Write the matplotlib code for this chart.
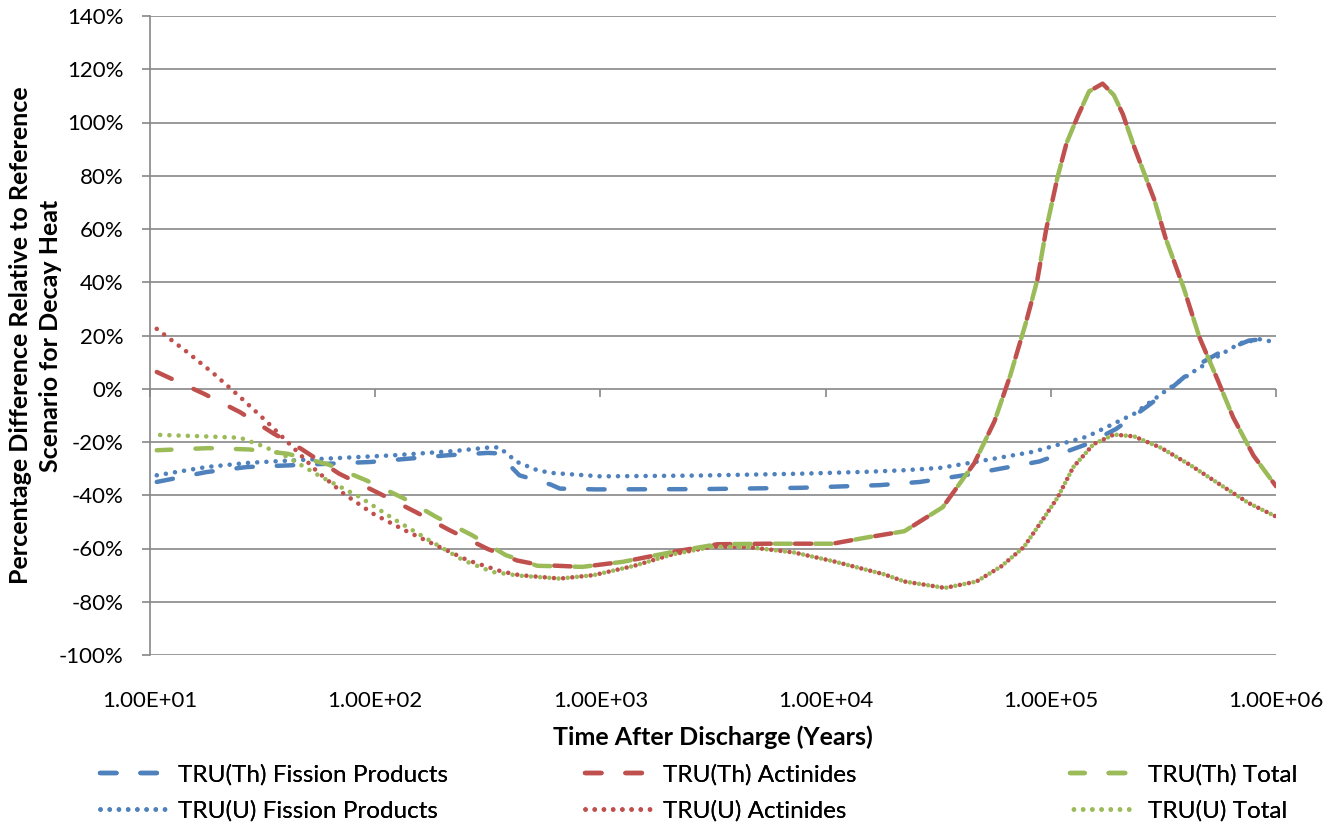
import numpy as np
import matplotlib
matplotlib.use('Agg')
import matplotlib.pyplot as plt
from matplotlib.ticker import FixedLocator, FuncFormatter, NullLocator

plt.rcParams['font.family'] = ['Lato', 'DejaVu Sans']

# Data (log10 of years, percent difference)
th_fp_logt = [1.03, 1.25, 1.43, 1.61, 1.98, 2.32, 2.50, 2.55, 2.60, 2.64, 2.78, 2.82, 2.98,
              3.44, 3.89, 4.24, 4.42, 4.63, 4.95, 5.16, 5.29, 5.43, 5.54, 5.66, 5.75, 5.88, 5.93, 6.0]
th_fp = [-35.0, -31.3, -29.4, -28.8, -27.5, -25.0, -24.1, -24.3, -29.0, -32.5, -36.0, -37.5, -37.8,
         -37.7, -37.2, -36.2, -35.0, -32.3, -27.3, -20.8, -15.1, -6.5, 0.6, 9.3, 13.6, 18.1, 18.5, 17.4]

u_fp_logt = [1.03, 1.25, 1.44, 1.77, 2.08, 2.35, 2.50, 2.55, 2.63, 2.72, 2.78, 3.0, 3.44, 3.89,
             4.18, 4.35, 4.51, 4.63, 4.92, 5.16, 5.37, 5.51, 5.62, 5.74, 5.84, 5.93, 6.0]
u_fp = [-32.5, -29.4, -27.8, -26.3, -25.0, -23.4, -22.1, -22.0, -27.5, -30.6, -31.6, -32.9, -32.6, -31.9,
        -31.2, -30.6, -29.7, -28.0, -23.7, -18.0, -9.4, -0.8, 5.7, 12.1, 17.1, 18.6, 17.4]

th_act_logt = [1.03, 1.24, 1.40, 1.55, 1.67, 1.84, 2.02, 2.18, 2.33, 2.50, 2.63, 2.73, 2.92, 3.10,
               3.32, 3.52, 3.74, 4.03, 4.18, 4.35, 4.52, 4.66, 4.75, 4.82, 4.89, 4.94, 4.98, 5.03,
               5.07, 5.12, 5.17, 5.23, 5.28, 5.32, 5.37, 5.46, 5.51, 5.59, 5.66, 5.74, 5.81, 5.90, 6.0]
th_act = [6.3, -1.9, -8.8, -16.9, -22.5, -31.9, -39.4, -46.3, -53.1, -60.2, -64.5, -66.2, -66.9, -65.0,
          -61.3, -58.4, -58.2, -58.2, -55.9, -53.5, -44.5, -28.0, -12.2, 5.0, 25.0, 40.8, 60.1, 79.5,
          92.3, 102.4, 111.7, 114.6, 110.3, 103.1, 90.9, 70.9, 56.5, 37.9, 19.3, 3.5, -10.8, -25.1, -36.6]

th_tot_logt = [1.03, 1.26, 1.44, 1.61, 1.79, 1.96, 2.13, 2.27, 2.43, 2.58, 2.72, 2.92, 3.10,
               3.32, 3.52, 3.74, 4.03, 4.18, 4.35, 4.52, 4.66, 4.75, 4.82, 4.89, 4.94, 4.98, 5.03,
               5.07, 5.12, 5.17, 5.23, 5.28, 5.32, 5.37, 5.46, 5.51, 5.59, 5.66, 5.74, 5.81, 5.90, 6.0]
th_tot = [-23.1, -22.3, -22.8, -24.4, -28.4, -34.4, -41.3, -48.1, -55.0, -62.5, -66.5, -66.9, -65.0,
          -61.3, -58.4, -58.2, -58.2, -55.9, -53.5, -44.5, -28.0, -12.2, 5.0, 25.0, 40.8, 60.1, 79.5,
          92.3, 102.4, 111.7, 114.6, 110.3, 103.1, 90.9, 70.9, 56.5, 37.9, 19.3, 3.5, -10.8, -25.1, -36.6]

u_act_logt = [1.03, 1.16, 1.28, 1.40, 1.52, 1.63, 1.74, 1.86, 1.99, 2.13, 2.27, 2.41, 2.56, 2.64,
              2.82, 2.97, 3.15, 3.32, 3.50, 3.65, 3.86, 4.03, 4.26, 4.35, 4.53, 4.67, 4.78, 4.88,
              4.95, 5.03, 5.10, 5.19, 5.28, 5.37, 5.49, 5.62, 5.75, 5.88, 6.0]
u_act = [22.5, 14.1, 5.9, -3.1, -12.5, -21.6, -30.9, -39.4, -46.9, -53.1, -58.8, -64.4, -68.6, -70.0,
         -71.3, -70.0, -66.5, -62.2, -59.3, -59.4, -61.5, -64.7, -69.7, -72.4, -74.8, -72.4, -66.7, -59.5,
         -50.9, -40.9, -29.4, -20.8, -17.2, -17.9, -22.2, -28.7, -35.9, -43.0, -48.0]

u_tot_logt = [1.03, 1.25, 1.40, 1.50, 1.61, 1.76, 1.93, 2.08, 2.24, 2.39, 2.52, 2.64,
              2.82, 2.97, 3.15, 3.32, 3.50, 3.65, 3.86, 4.03, 4.26, 4.35, 4.53, 4.67, 4.78, 4.88,
              4.95, 5.03, 5.10, 5.19, 5.28, 5.37, 5.49, 5.62, 5.75, 5.88, 6.0]
u_tot = [-17.3, -17.9, -18.4, -21.5, -25.6, -33.1, -40.6, -48.8, -56.9, -64.4, -68.8, -70.2,
         -71.3, -70.0, -66.5, -62.2, -59.3, -59.4, -61.5, -64.7, -69.7, -72.4, -74.8, -72.4, -66.7, -59.5,
         -50.9, -40.9, -29.4, -20.8, -17.2, -17.9, -22.2, -28.7, -35.9, -43.0, -48.0]

decades = [1e1, 1e2, 1e3, 1e4, 1e5, 1e6]
pct_ticks = list(range(-100, 141, 20))

blue, red, green = '#4F81BD', '#C0504D', '#9BBB59'
grid_col = '#878787'
DPI = 100
lw_dash, lw_dot = 3.2, 3.3
dash_pat = (3.7, 5.4)
dot_pat = (0.01, 2.0)

fig = plt.figure(figsize=(13.41, 8.26), dpi=DPI)
ax = fig.add_axes([150 / 1341, 1 - 655 / 826, 1126 / 1341, 639 / 826])
ax.set_xscale('log')
ax.set_xlim(1e1, 1e6)
ax.set_ylim(-100, 140)


def path_len(lt, y, upto):
    # length in pixels of the drawn polyline up to point index `upto`
    pts = ax.transData.transform(np.column_stack([10 ** np.array(lt[:upto + 1]), y[:upto + 1]]))
    return np.sum(np.hypot(*np.diff(pts, axis=0).T))


def half_shift(lt_a, y_a, ja, lt_b, y_b, jb, lw, pat):
    # offset for series b so that its dashes fall between those of series a where they overlap
    unit = lw * DPI / 72
    period = sum(pat) * unit
    off = (path_len(lt_a, y_a, ja) - path_len(lt_b, y_b, jb) + period / 2) % period
    return off / unit


th_off = half_shift(th_act_logt, th_act, th_act_logt.index(2.92),
                    th_tot_logt, th_tot, th_tot_logt.index(2.92), lw_dash, dash_pat)
u_off = half_shift(u_act_logt, u_act, u_act_logt.index(2.82),
                   u_tot_logt, u_tot, u_tot_logt.index(2.82), lw_dot, dot_pat)

series = [
    (th_fp_logt, th_fp, blue, (0, dash_pat), lw_dash, 'TRU(Th) Fission Products'),
    (u_fp_logt, u_fp, blue, (0, dot_pat), lw_dot, 'TRU(U) Fission Products'),
    (th_act_logt, th_act, red, (0, dash_pat), lw_dash, 'TRU(Th) Actinides'),
    (u_act_logt, u_act, red, (0, dot_pat), lw_dot, 'TRU(U) Actinides'),
    (th_tot_logt, th_tot, green, (th_off, dash_pat), lw_dash, 'TRU(Th) Total'),
    (u_tot_logt, u_tot, green, (u_off, dot_pat), lw_dot, 'TRU(U) Total'),
]
lines = {}
for lt, y, c, ls, lw, lab in series:
    ln, = ax.plot(10 ** np.array(lt), y, color=c, linestyle=ls, lw=lw,
                  dash_capstyle='round', solid_capstyle='round', label=lab)
    lines[lab] = ln

ax.xaxis.set_major_locator(FixedLocator(decades))
ax.xaxis.set_minor_locator(NullLocator())
ax.xaxis.set_major_formatter(FuncFormatter(lambda v, p: f'{v:.2E}'))
ax.yaxis.set_major_locator(FixedLocator(pct_ticks))
ax.yaxis.set_major_formatter(FuncFormatter(lambda v, p: f'{v:.0f}%'))
ax.grid(axis='y', color=grid_col, lw=1.2)
ax.set_axisbelow(True)
for s in ['top', 'right', 'bottom']:
    ax.spines[s].set_visible(False)
ax.spines['left'].set_color(grid_col)
ax.spines['left'].set_linewidth(1.2)
ax.tick_params(axis='x', length=0, pad=26, labelsize=16)
ax.tick_params(axis='y', length=6, width=1.2, color=grid_col, pad=13, labelsize=16)

# horizontal axis crosses at 0% with tick marks there
sec = ax.secondary_xaxis(100 / 240)
sec.set_xticks(decades)
sec.xaxis.set_minor_locator(NullLocator())
sec.set_xticklabels([])
sec.tick_params(axis='x', length=6, width=1.2, color=grid_col, direction='out')
sec.spines['bottom'].set_visible(False)

ax.set_xlabel('Time After Discharge (Years)', fontsize=18, fontweight='bold', labelpad=10)
ax.set_ylabel('Percentage Difference Relative to Reference\nScenario for Decay Heat',
              fontsize=18, fontweight='bold', labelpad=-2, linespacing=1.35)

cols = [('TRU(Th) Fission Products', 'TRU(U) Fission Products', 100),
        ('TRU(Th) Actinides', 'TRU(U) Actinides', 585),
        ('TRU(Th) Total', 'TRU(U) Total', 1070)]
for a, b, xpx in cols:
    leg = fig.legend([lines[a], lines[b]], [a, b], loc='upper left',
                     bbox_to_anchor=(xpx / 1341, 1 - 764 / 826), frameon=False,
                     fontsize=17.5, handlelength=2.75, handletextpad=0.45,
                     labelspacing=0.6, borderpad=0, borderaxespad=0)
    fig.add_artist(leg)

fig.savefig('out.png', dpi=DPI)
